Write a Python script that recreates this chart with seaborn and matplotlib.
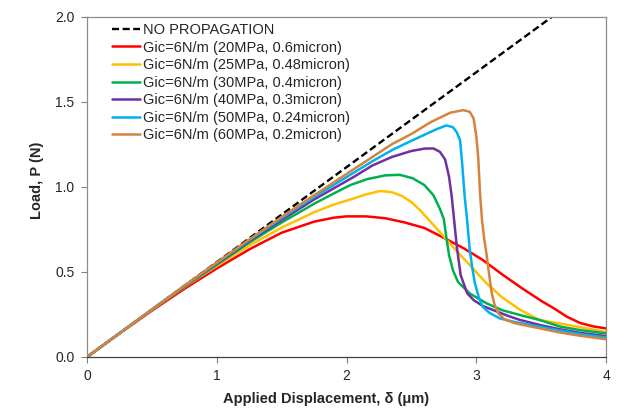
import matplotlib
matplotlib.use("Agg")
import matplotlib.pyplot as plt
from matplotlib.ticker import FormatStrFormatter
import seaborn as sns
import pandas as pd

# ---------------- data ----------------
no_prop_x = [0.0, 4.0]
no_prop_y = [0.0, 2.23]

red_x = [0, 0.25, 0.5, 0.75, 1.0, 1.25, 1.5, 1.75, 1.9, 2.0, 2.15, 2.3, 2.45, 2.6, 2.75, 2.9,
         3.05, 3.2, 3.35, 3.5, 3.6, 3.7, 3.8, 3.9, 4.0]
red_y = [0, 0.138, 0.272, 0.40, 0.52, 0.632, 0.73, 0.795, 0.818, 0.826, 0.826, 0.815, 0.79, 0.758,
         0.70, 0.64, 0.57, 0.485, 0.405, 0.33, 0.285, 0.236, 0.2, 0.18, 0.168]

yellow_x = [0, 0.25, 0.5, 0.75, 1.0, 1.25, 1.5, 1.75, 1.9, 2.05, 2.15, 2.26, 2.35, 2.43, 2.5, 2.57,
            2.7, 2.82, 2.95, 3.08, 3.2, 3.34, 3.49, 3.65, 3.8, 4.0]
yellow_y = [0, 0.139, 0.276, 0.41, 0.535, 0.655, 0.76, 0.85, 0.895, 0.93, 0.955, 0.975, 0.968, 0.945,
            0.91, 0.86, 0.75, 0.647, 0.54, 0.432, 0.35, 0.276, 0.217, 0.196, 0.175, 0.148]

green_x = [0, 0.25, 0.5, 0.75, 1.0, 1.25, 1.5, 1.75, 1.9, 2.03, 2.16, 2.3, 2.41, 2.51, 2.6, 2.67,
           2.72, 2.75, 2.77, 2.79, 2.82, 2.86, 2.95, 3.08, 3.2, 3.34, 3.49, 3.65, 3.8, 4.0]
green_y = [0, 0.139, 0.278, 0.412, 0.542, 0.672, 0.79, 0.90, 0.96, 1.01, 1.045, 1.067, 1.07, 1.05,
           1.01, 0.95, 0.87, 0.81, 0.70, 0.60, 0.51, 0.44, 0.373, 0.315, 0.275, 0.246, 0.217,
           0.178, 0.158, 0.139]

purple_x = [0, 0.25, 0.5, 0.75, 1.0, 1.25, 1.5, 1.75, 1.9, 2.05, 2.2, 2.35, 2.5, 2.6, 2.67, 2.72,
            2.76, 2.79, 2.81, 2.83, 2.85, 2.88, 2.93, 2.98, 3.05, 3.13, 3.25, 3.34, 3.49, 3.65,
            3.8, 4.0]
purple_y = [0, 0.139, 0.278, 0.415, 0.548, 0.68, 0.805, 0.925, 0.99, 1.055, 1.125, 1.175, 1.21,
            1.224, 1.225, 1.205, 1.16, 1.06, 0.95, 0.80, 0.65, 0.48, 0.375, 0.334, 0.30, 0.276,
            0.24, 0.217, 0.188, 0.162, 0.142, 0.123]

blue_x = [0, 0.25, 0.5, 0.75, 1.0, 1.25, 1.5, 1.75, 1.9, 2.05, 2.2, 2.35, 2.5, 2.6, 2.7, 2.77,
          2.82, 2.85, 2.875, 2.89, 2.91, 2.93, 2.95, 2.97, 2.99, 3.02, 3.05, 3.1, 3.18, 3.3, 3.49,
          3.65, 3.8, 4.0]
blue_y = [0, 0.139, 0.279, 0.417, 0.552, 0.686, 0.815, 0.94, 1.01, 1.08, 1.15, 1.215, 1.27, 1.305,
          1.34, 1.36, 1.35, 1.32, 1.273, 1.15, 0.95, 0.80, 0.628, 0.52, 0.432, 0.35, 0.295, 0.26,
          0.227, 0.205, 0.178, 0.155, 0.135, 0.115]

brown_x = [0, 0.25, 0.5, 0.75, 1.0, 1.25, 1.5, 1.75, 1.9, 2.05, 2.2, 2.35, 2.5, 2.65, 2.8, 2.9,
           2.95, 2.98, 3.0, 3.015, 3.03, 3.045, 3.06, 3.08, 3.1, 3.12, 3.14, 3.17, 3.22, 3.3, 3.49,
           3.65, 3.8, 4.0]
brown_y = [0, 0.139, 0.279, 0.418, 0.555, 0.69, 0.823, 0.95, 1.025, 1.1, 1.175, 1.25, 1.31, 1.38,
           1.435, 1.45, 1.44, 1.40, 1.30, 1.175, 0.95, 0.80, 0.70, 0.60, 0.48, 0.373, 0.31, 0.256,
           0.22, 0.198, 0.168, 0.143, 0.125, 0.104]

labels = ["Gic=6N/m (20MPa, 0.6micron)", "Gic=6N/m (25MPa, 0.48micron)",
          "Gic=6N/m (30MPa, 0.4micron)", "Gic=6N/m (40MPa, 0.3micron)",
          "Gic=6N/m (50MPa, 0.24micron)", "Gic=6N/m (60MPa, 0.2micron)"]
colors = ["#FF0000", "#FFC000", "#00B050", "#7030A0", "#00B0F0", "#D4843F"]
series = [(red_x, red_y), (yellow_x, yellow_y), (green_x, green_y),
          (purple_x, purple_y), (blue_x, blue_y), (brown_x, brown_y)]

x_ticks = [0, 1, 2, 3, 4]
y_ticks = [0.0, 0.5, 1.0, 1.5, 2.0]

# ---------------- plot ----------------
sns.set_style("white")
plt.rcParams["font.family"] = ["Liberation Sans", "DejaVu Sans"]

fig = plt.figure(figsize=(6.24, 4.09), dpi=100)
ax = fig.add_axes([87 / 624, 1 - 357 / 409, 519 / 624, 340.5 / 409])

sns.lineplot(x=no_prop_x, y=no_prop_y, ax=ax, color="black", lw=1.7,
             linestyle=(0, (3, 1.5)), label="NO PROPAGATION", sort=False, estimator=None)
for (xs, ys), lab, col in zip(series, labels, colors):
    df = pd.DataFrame({"x": xs, "y": ys})
    sns.lineplot(data=df, x="x", y="y", ax=ax, color=col, lw=1.8, label=lab,
                 sort=False, estimator=None)

ax.set_xlim(0, 4)
ax.set_ylim(0, 2.0)
ax.set_xticks(x_ticks)
ax.set_yticks(y_ticks)
ax.yaxis.set_major_formatter(FormatStrFormatter("%.1f"))

ax.tick_params(axis="both", which="major", bottom=True, left=True, direction="out",
               length=4.5, width=0.8, color="#808080", labelsize=10, labelcolor="#262626",
               pad=4.5)

for s in ["left", "top", "right"]:
    ax.spines[s].set_color("#8c8c8c")
    ax.spines[s].set_linewidth(0.9)
ax.spines["bottom"].set_color("#404040")
ax.spines["bottom"].set_linewidth(0.9)

ax.set_xlabel("Applied Displacement, \u03b4 (\u03bcm)", fontsize=10.5, fontweight="bold",
              color="#262626")
ax.set_ylabel("Load, P (N)", fontsize=10.5, fontweight="bold", color="#262626")
ax.xaxis.set_label_coords(0.46, -0.103)
ax.yaxis.set_label_coords(-0.083, 0.52)

leg = ax.legend(loc="upper left", bbox_to_anchor=(0.048, 0.981), frameon=False, fontsize=10.5,
                handlelength=1.9, handletextpad=0.25, labelspacing=0.245, borderpad=0.0,
                borderaxespad=0.0)
for t in leg.get_texts():
    t.set_color("#262626")

fig.savefig("out.png", dpi=100)
